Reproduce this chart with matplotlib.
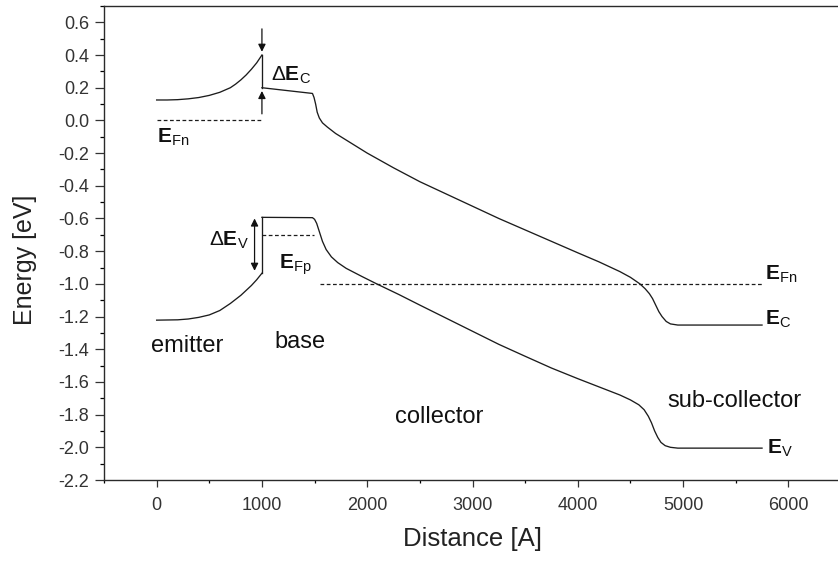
import numpy as np
import matplotlib
matplotlib.use("Agg")
import matplotlib.pyplot as plt
from matplotlib.ticker import MultipleLocator

plt.rcParams['font.family'] = ['Liberation Sans', 'DejaVu Sans']
plt.rcParams['mathtext.fontset'] = 'custom'
plt.rcParams['mathtext.rm'] = 'Liberation Sans'
plt.rcParams['mathtext.bf'] = 'Liberation Sans:bold'

# conduction band edge E_C  (distance in Angstrom, energy in eV)
ec_emitter_x = [0, 100, 200, 300, 400, 500, 600, 700, 750, 800, 850, 900, 950, 1000]
ec_emitter_y = [0.125, 0.125, 0.127, 0.132, 0.14, 0.153, 0.172, 0.20, 0.222, 0.248,
                0.278, 0.313, 0.352, 0.40]
ec_rest_x = [1000, 1480, 1495, 1510, 1525, 1545, 1575, 1620, 1700, 1800, 2000, 2250,
             2500, 2750, 3000, 3250, 3500, 3750, 4000, 4200, 4400, 4500, 4590, 4640,
             4680, 4710, 4740, 4770, 4800, 4840, 4880, 4950, 5750]
ec_rest_y = [0.20, 0.165, 0.14, 0.10, 0.05, 0.015, -0.015, -0.04, -0.08, -0.12, -0.20, -0.29,
             -0.375, -0.45, -0.525, -0.60, -0.67, -0.74, -0.81, -0.865, -0.925, -0.96, -1.0, -1.03,
             -1.06, -1.09, -1.13, -1.17, -1.20, -1.23, -1.245, -1.252, -1.252]

# valence band edge E_V
ev_emitter_x = [0, 200, 300, 400, 500, 600, 700, 800, 850, 900, 950, 1000]
ev_emitter_y = [-1.222, -1.22, -1.215, -1.205, -1.19, -1.163, -1.12, -1.07, -1.04, -1.01,
                -0.975, -0.935]
ev_rest_x = [1000, 1480, 1500, 1520, 1545, 1575, 1610, 1660, 1720, 1800, 1950, 2090, 2300,
             2500, 2750, 3000, 3250, 3500, 3750, 4000, 4200, 4400, 4500, 4580, 4630, 4670,
             4700, 4730, 4760, 4790, 4830, 4880, 4950, 5750]
ev_rest_y = [-0.593, -0.595, -0.605, -0.63, -0.68, -0.74, -0.79, -0.835, -0.87, -0.905, -0.955,
             -1.0, -1.065, -1.13, -1.21, -1.29, -1.37, -1.443, -1.515, -1.58, -1.63, -1.68,
             -1.71, -1.74, -1.77, -1.81, -1.85, -1.90, -1.94, -1.97, -1.99, -2.0, -2.005, -2.005]

# quasi-Fermi levels
efn_emitter_x, efn_emitter_y = [0, 1000], [0.0, 0.0]
efp_base_x, efp_base_y = [1000, 1490], [-0.70, -0.70]
efn_coll_x, efn_coll_y = [1550, 5755], [-1.0, -1.0]

# band offsets at the emitter/base junction
x_junction = 1000
dEc = (0.40, 0.20)
dEv = (-0.60, -0.92)

fig = plt.figure(figsize=(8.38, 5.64), dpi=100)
ax = fig.add_axes([104 / 838, 84 / 564, 737 / 838, 474 / 564])

line_kw = dict(color='#1c1c1c', lw=0.95)
dash_kw = dict(color='#1c1c1c', lw=0.9, ls=(0, (3, 2)))

ax.plot(ec_emitter_x, ec_emitter_y, **line_kw)
ax.plot([x_junction, x_junction], [ec_emitter_y[-1], ec_rest_y[0]], **line_kw)
ax.plot(ec_rest_x, ec_rest_y, **line_kw)

ax.plot(ev_emitter_x, ev_emitter_y, **line_kw)
ax.plot([x_junction, x_junction], [ev_emitter_y[-1], ev_rest_y[0]], **line_kw)
ax.plot(ev_rest_x, ev_rest_y, **line_kw)

ax.plot(efn_emitter_x, efn_emitter_y, **dash_kw)
ax.plot(efp_base_x, efp_base_y, **dash_kw)
ax.plot(efn_coll_x, efn_coll_y, **dash_kw)

# arrows marking the offsets
arr = dict(arrowstyle='-|>', color='#111111', lw=0.9, mutation_scale=11,
           shrinkA=0, shrinkB=0)
ax.annotate('', xy=(x_junction, dEc[0] + 0.02), xytext=(x_junction, 0.56), arrowprops=arr)
ax.annotate('', xy=(x_junction, dEc[1] - 0.02), xytext=(x_junction, 0.04), arrowprops=arr)
arr2 = dict(arrowstyle='<|-|>', color='#111111', lw=0.9, mutation_scale=11,
            shrinkA=0, shrinkB=0)
ax.annotate('', xy=(930, dEv[0]), xytext=(930, dEv[1]), arrowprops=arr2)

ekw = dict(fontsize=15, color='#111111', va='baseline', ha='left')
ax.text(1090, 0.245, r'$\Delta\mathbf{E}_{\mathrm{C}}$', **ekw)
ax.text(0, -0.132, r'$\mathbf{E}_{\mathrm{Fn}}$', **ekw)
ax.text(500, -0.765, r'$\Delta\mathbf{E}_{\mathrm{V}}$', **ekw)
ax.text(1165, -0.905, r'$\mathbf{E}_{\mathrm{Fp}}$', **ekw)
ax.text(5780, -0.97, r'$\mathbf{E}_{\mathrm{Fn}}$', **ekw)
ax.text(5780, -1.245, r'$\mathbf{E}_{\mathrm{C}}$', **ekw)
ax.text(5795, -2.035, r'$\mathbf{E}_{\mathrm{V}}$', **ekw)

rkw = dict(fontsize=17, color='#111111', va='baseline', ha='left')
ax.text(-50, -1.416, 'emitter', **rkw)
ax.text(1120, -1.394, 'base', **rkw)
ax.text(2260, -1.853, 'collector', **rkw)
ax.text(4853, -1.753, 'sub-collector', **rkw)

ax.set_xlim(-500, 6500)
ax.set_ylim(-2.2, 0.7)
ax.xaxis.set_minor_locator(MultipleLocator(500))
ax.yaxis.set_minor_locator(MultipleLocator(0.1))
ax.set_xticks(range(0, 6001, 1000))
ax.set_yticks(np.round(np.arange(-2.2, 0.61, 0.2), 1))
ax.yaxis.set_major_formatter(plt.FuncFormatter(lambda v, p: '%.1f' % v))

ax.tick_params(axis='x', which='major', direction='out', length=5, width=0.9,
               pad=7.5, labelsize=13, colors='#333333', top=False)
ax.tick_params(axis='x', which='minor', direction='out', length=2.5, width=0.9, top=False)
ax.tick_params(axis='y', which='major', direction='out', length=6.5, width=0.9,
               pad=4, labelsize=13, colors='#333333', right=False)
ax.tick_params(axis='y', which='minor', direction='out', length=3, width=0.9, right=False)

for side in ['left', 'bottom', 'top']:
    ax.spines[side].set_color('#2a2a2a')
    ax.spines[side].set_linewidth(1.0)
ax.spines['right'].set_visible(False)

ax.set_xlabel('Distance [A]', fontsize=18.5, color='#222222')
ax.set_ylabel('Energy [eV]', fontsize=18, color='#222222')
ax.xaxis.set_label_coords(0.5, -0.099)
ax.yaxis.set_label_coords(-0.091, 0.465)

fig.savefig('out.png', dpi=100)
